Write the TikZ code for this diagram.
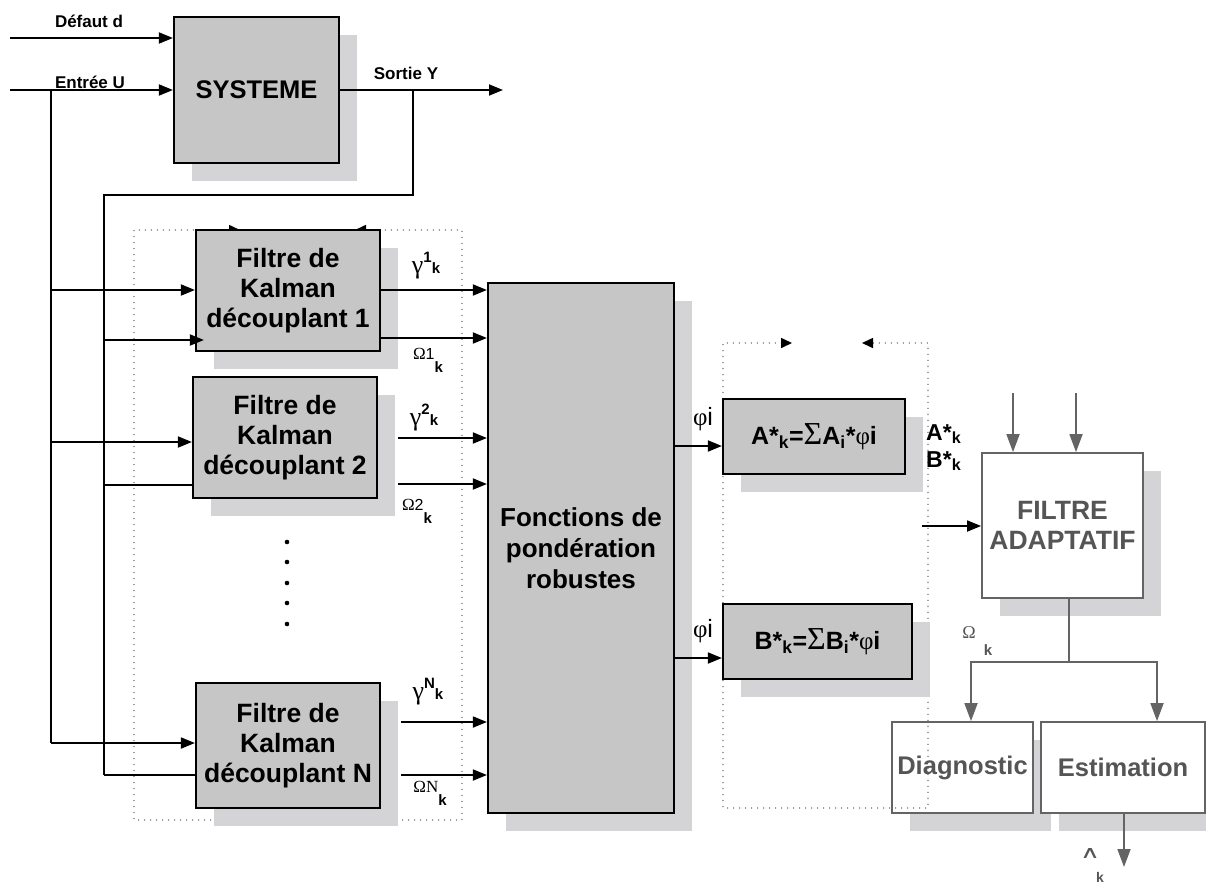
\documentclass[tikz,border=0pt]{standalone}
\usepackage{fontspec}
\usepackage{graphicx}
\setmainfont{Liberation Sans}
\newfontfamily\serif{Liberation Serif}
\newfontfamily\dejavu{DejaVu Sans}
\usetikzlibrary{arrows.meta,shadows,calc}
\definecolor{boxc}{RGB}{198,198,198}
\definecolor{shadc}{RGB}{212,212,214}
\definecolor{grayline}{RGB}{100,100,100}
\definecolor{graytext}{RGB}{85,85,85}
\definecolor{dotc}{RGB}{110,110,110}
\newcommand{\fs}[2]{\fontsize{#1}{#2}\selectfont}
\newcommand{\glab}[1]{{\serif\fs{26}{26}γ}{\bfseries\fs{15}{15}\raisebox{11pt}{#1}k}}
\newcommand{\olab}[1]{{\serif\fs{17}{17}Ω}{\fs{16}{16}#1}{\bfseries\fs{15}{15}\raisebox{-13pt}{k}}}
\begin{document}
\begin{tikzpicture}[x=1pt,y=-1pt,
  graybox/.style={draw=black, line width=2.2pt, fill=boxc,
    general shadow={fill=shadc, shadow xshift=18pt, shadow yshift=-18pt},
    align=center, font=\fs{25.5}{30}\bfseries, inner sep=0pt},
  whitebox/.style={draw=grayline, line width=1.8pt, fill=white, text=graytext,
    general shadow={fill=shadc, shadow xshift=18pt, shadow yshift=-18pt},
    align=center, font=\fs{25.5}{30}\bfseries, inner sep=0pt},
  arr/.style={line width=1.8pt, -{Triangle[length=14pt,width=11pt]}},
  ln/.style={line width=1.8pt},
  garr/.style={draw=grayline, line width=1.8pt, -{Triangle[length=18pt,width=13pt,fill=grayline]}},
  gln/.style={draw=grayline, line width=1.8pt},
  dotline/.style={draw=dotc, line width=1.6pt, dash pattern=on 0pt off 6pt, line cap=round},
  smallarr/.style={dotline, {Triangle[length=11pt,width=10pt,black,fill=black,line cap=butt]}-{Triangle[length=11pt,width=10pt,black,fill=black,line cap=butt]}},
  lab/.style={inner sep=0pt, font=\fs{17}{17}\bfseries}
]
\useasboundingbox (0,0) rectangle (1206,883);

% --- white boxes (adaptive part) ---
\node[whitebox, minimum width=161pt, minimum height=145pt, font=\fs{26.5}{30}\bfseries] (fa) at (1062.5,525.5) {FILTRE\\ADAPTATIF};
\node[whitebox, minimum width=141pt, minimum height=91pt] (diag) at (962.5,767.5) {Diagnostic};
\node[whitebox, minimum width=164pt, minimum height=91pt] (est) at (1123,767.5) {Estimation};

% --- dotted boxes ---
\draw[smallarr] (240,230) -- (134,230) -- (134,820) -- (462,820) -- (462,230) -- (355,230);
\draw[smallarr] (792,343) -- (723,343) -- (723,808) -- (928,808) -- (928,343) -- (862,343);

% --- gray boxes ---
\node[graybox, minimum width=165pt, minimum height=146pt] (sys) at (256.5,90) {SYSTEME};
\node[graybox, minimum width=184pt, minimum height=121pt, font=\fs{26.5}{30}\bfseries] (f1) at (288,290.5) {Filtre de\\Kalman\\découplant 1};
\node[graybox, minimum width=184pt, minimum height=121pt, font=\fs{26.5}{30}\bfseries] (f2) at (285,437.5) {Filtre de\\Kalman\\découplant 2};
\node[graybox, minimum width=184pt, minimum height=125pt, font=\fs{26.5}{30}\bfseries] (fN) at (288,745.5) {Filtre de\\Kalman\\découplant N};
\node[graybox, minimum width=186pt, minimum height=530pt, font=\fs{26}{31}\bfseries] (fp) at (581,548) {Fonctions de\\pondération\\robustes};
\node[graybox, minimum width=182pt, minimum height=75pt, font=\fs{25}{25}\bfseries] (As) at (814,436.5)
  {A*\textsubscript{k}={\serif\mdseries\fs{32}{32}Σ}A\textsubscript{i}*{\serif\mdseries φ}i};
\node[graybox, minimum width=189pt, minimum height=75pt, font=\fs{25}{25}\bfseries] (Bs) at (817.5,641.5)
  {B*\textsubscript{k}={\serif\mdseries\fs{32}{32}Σ}B\textsubscript{i}*{\serif\mdseries φ}i};

% --- free ends ---
\coordinate (din) at (10,38);
\coordinate (uin) at (10,90);
\coordinate (uj) at (51,90);
\coordinate (ub) at (51,743);
\coordinate (yout) at (503,90);
\coordinate (yj) at (413,90);
\coordinate (yc) at (413,195);
\coordinate (yb) at (104,195);
\coordinate (ye) at (104,775);

% --- system connectors ---
\draw[arr] (din) -- (sys.west |- din);
\draw[arr] (uin) -- (sys.west |- uin);
\draw[arr] (sys.east |- yout) -- (yout);
\draw[ln] (uj) -- (ub);
\draw[ln] (yj) -- (yc) -- (yb) -- (ye);

% --- inputs of the filters ---
\draw[arr] (uj |- 0,290) -- (f1.west |- 0,290);
\draw[arr] (yb |- 0,340) -- ([xshift=9pt]f1.west |- 0,340);
\draw[arr] (uj |- 0,442) -- (f2.west |- 0,442);
\draw[ln] (yb |- 0,485) -- (f2.west |- 0,485);
\draw[arr] (ub) -- (fN.west |- ub);
\draw[ln] (ye) -- (fN.west |- ye);

% --- outputs of the filters ---
\draw[arr] (f1.east |- 0,290) -- (fp.west |- 0,290);
\draw[arr] (f1.east |- 0,338) -- (fp.west |- 0,338);
\draw[arr] ([xshift=20pt]f2.east |- 0,438) -- (fp.west |- 0,438);
\draw[arr] ([xshift=20pt]f2.east |- 0,484) -- (fp.west |- 0,484);
\draw[arr] ([xshift=20pt]fN.east |- 0,722) -- (fp.west |- 0,722);
\draw[arr] ([xshift=20pt]fN.east |- 0,775) -- (fp.west |- 0,775);

% --- weights ---
\draw[arr] (fp.east |- 0,446) -- (As.west |- 0,446);
\draw[arr] (fp.east |- 0,658) -- (Bs.west |- 0,658);

% --- adaptive filter ---
\coordinate (fain) at (922,526);
\coordinate (ain) at (1013,393);
\coordinate (bin) at (1076,393);
\coordinate (fo) at (1069,662);
\coordinate (hatend) at (1124,867);
\draw[arr] (fain) -- (fa.west |- fain);
\draw[garr] (ain) -- (fa.north -| ain);
\draw[garr] (bin) -- (fa.north -| bin);
\draw[gln] (fa.south -| fo) -- (fo);
\draw[garr] (fo) -| (diag.north -| 971,0);
\draw[garr] (fo) -| (est.north -| 1157,0);
\draw[garr] (est.south -| hatend) -- (hatend);

% --- dots ---
\foreach \yy/\nm in {542/d1,562/d2,583/d3,603/d4,624/d5}
  \fill (287,\yy) circle (2.3pt) coordinate (\nm);

% --- labels ---
\node[lab] (ld) at (89,21) {Défaut d};
\node[lab] (lu) at (90,82) {Entrée U};
\node[lab] (ly) at (406,73) {Sortie Y};
\node[inner sep=0pt] (g1) at (426,266) {\glab{1}};
\node[inner sep=0pt] (o1) at (428,360) {\olab{1}};
\node[inner sep=0pt] (g2) at (424,418) {\glab{2}};
\node[inner sep=0pt] (o2) at (417,511) {\olab{2}};
\node[inner sep=0pt] (gN) at (428,692) {\glab{N}};
\node[inner sep=0pt] (oN) at (430,793) {{\serif\fs{17}{17}ΩN}{\bfseries\fs{15}{15}\raisebox{-13pt}{k}}};
\node[inner sep=0pt, font=\fs{25}{25}] (pa) at (703,419) {{\serif φ}i};
\node[inner sep=0pt, font=\fs{25}{25}] (pb) at (703,631) {{\serif φ}i};
\node[inner sep=0pt, anchor=west, font=\fs{23}{23}\bfseries] (lak) at (926,434) {A*\textsubscript{k}};
\node[inner sep=0pt, anchor=west, font=\fs{23}{23}\bfseries] (lbk) at (926,461) {B*\textsubscript{k}};
\node[inner sep=0pt, text=graytext, font=\serif\fs{18}{18}] (lom) at (969,633) {Ω};
\node[inner sep=0pt, text=graytext, font=\fs{15}{15}\bfseries] (lomk) at (988,650) {k};
\node[inner sep=0pt, text=graytext, font=\dejavu\fs{30}{30}] (lhat) at (1090,853) {\resizebox{20pt}{10pt}{∧}};
\node[inner sep=0pt, text=graytext, font=\fs{14}{14}\bfseries] (lhatk) at (1100,877) {k};
\end{tikzpicture}
\end{document}
